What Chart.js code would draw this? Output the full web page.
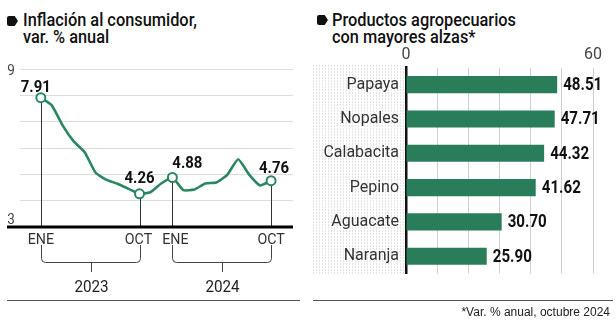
<!DOCTYPE html>
<html><head><meta charset="utf-8">
<script src="https://cdn.jsdelivr.net/npm/chart.js@4/dist/chart.umd.min.js"></script>
<style>
html,body{margin:0;padding:0;background:#fff}
body{width:616px;height:324px;position:relative;overflow:hidden;font-family:Roboto,sans-serif}
.t{position:absolute;top:12px;font-size:19px;font-weight:500;line-height:16.7px;color:#111;transform:scaleX(0.86);transform-origin:0 0;white-space:nowrap}
.b{position:absolute;width:11px;height:10px;background:#111;border-radius:2px 0 0 2px;clip-path:polygon(0 0,70% 0,100% 50%,70% 100%,0 100%)}
.rule{position:absolute;top:300px;height:1px;background:#555}
.note{position:absolute;right:6px;top:305px;font:12px "Liberation Sans",Arial,sans-serif;color:#222;white-space:nowrap}
.cw{position:absolute}
</style></head>
<body>
<div class="b" style="left:7px;top:16px"></div>
<div class="t" style="left:23px">Inflación al consumidor,<br>var. % anual</div>
<div class="b" style="left:317px;top:15px"></div>
<div class="t" style="left:332px">Productos agropecuarios<br>con mayores alzas*</div>
<div class="cw" style="left:0;top:50px;width:300px;height:260px"><canvas id="c1"></canvas></div>
<div class="cw" style="left:300px;top:45px;width:316px;height:245px"><canvas id="c2"></canvas></div>
<div class="rule" style="left:7px;width:293px"></div>
<div class="rule" style="left:313px;width:300px"></div>
<div class="note">*Var. % anual, octubre 2024</div>
<script>
// ---- data: inflation ----
const monthLabels = ['ENE','FEB','MAR','ABR','MAY','JUN','JUL','AGO','SEP','OCT','NOV','DIC',
                     'ENE','FEB','MAR','ABR','MAY','JUN','JUL','AGO','SEP','OCT'];
const inflation = [7.91,7.62,6.85,6.25,5.84,5.06,4.79,4.64,4.45,4.26,4.32,4.66,
                   4.88,4.40,4.42,4.65,4.69,4.98,5.57,4.99,4.58,4.76];
const highlighted = [0,9,12,21];
const yTickLabels = [9,3];
const years = ['2023','2024'];
const yearSpans = [[0,9],[12,21]];
// ---- data: products ----
const products = ['Papaya','Nopales','Calabacita','Pepino','Aguacate','Naranja'];
const increases = [48.51,47.71,44.32,41.62,30.70,25.90];
const barTickLabels = [0,60];

const GREEN = '#2b8760';
const BAR = '#2a7d5b';

function scaledText(ctx, txt, x, y, sx, align){
  ctx.save();
  ctx.translate(x, y);
  ctx.scale(sx, 1);
  ctx.textAlign = align || 'center';
  ctx.fillText(txt, 0, 0);
  ctx.restore();
}

const lineDecor = {
  id:'lineDecor',
  beforeDatasetsDraw(chart){
    const {ctx, scales:{x, y}, chartArea} = chart;
    const y0 = y.getPixelForValue(3);
    ctx.save();
    ctx.strokeStyle = '#333'; ctx.lineWidth = 1;
    highlighted.forEach(i=>{
      const px = Math.round(x.getPixelForValue(i))+0.5;
      ctx.beginPath(); ctx.moveTo(px, y.getPixelForValue(inflation[i])); ctx.lineTo(px, y0); ctx.stroke();
    });
    ctx.strokeStyle = '#000'; ctx.lineWidth = 3;
    ctx.beginPath(); ctx.moveTo(7, y0); ctx.lineTo(chartArea.right, y0); ctx.stroke();
    ctx.restore();
  },
  afterDatasetsDraw(chart){
    const {ctx, scales:{x, y}} = chart;
    const y0 = y.getPixelForValue(3);
    ctx.save();
    // y tick labels
    ctx.fillStyle = '#444'; ctx.font = '15px Roboto'; ctx.textBaseline = 'middle';
    yTickLabels.forEach(v=>{
      const py = v === 3 ? y.getPixelForValue(v) - 7 : y.getPixelForValue(v) + 2;
      scaledText(ctx, String(v), 11, py, 0.9);
    });
    // month labels
    ctx.fillStyle = '#333'; ctx.font = '15px Roboto';
    const mdx = {0:0, 9:-1, 12:3, 21:0};
    highlighted.forEach(i=>{
      scaledText(ctx, monthLabels[i], x.getPixelForValue(i)+mdx[i], y0+13, 0.95);
    });
    // brackets
    ctx.strokeStyle = '#444'; ctx.lineWidth = 1;
    const top = y0+18, hy = y0+35.5, r = 4;
    yearSpans.forEach((s, k)=>{
      const a = Math.round(x.getPixelForValue(s[0]))+0.5, b = Math.round(x.getPixelForValue(s[1]))+0.5;
      ctx.beginPath();
      ctx.moveTo(a, top); ctx.lineTo(a, hy-r); ctx.quadraticCurveTo(a, hy, a+r, hy);
      ctx.lineTo(b-r, hy); ctx.quadraticCurveTo(b, hy, b, hy-r); ctx.lineTo(b, top);
      ctx.stroke();
      const m = Math.round((a+b)/2)+0.5;
      ctx.beginPath(); ctx.moveTo(m, hy); ctx.lineTo(m, y0+45); ctx.stroke();
      ctx.fillStyle = '#222'; ctx.font = '16px Roboto'; ctx.textBaseline = 'middle';
      scaledText(ctx, years[k], m, y0+61, 0.95);
    });
    // value labels
    ctx.fillStyle = '#111'; ctx.font = 'bold 17px Roboto'; ctx.textBaseline = 'alphabetic';
    const off = {0:[-5,-6], 9:[0,-11], 12:[15,-9], 21:[3,-8]};
    highlighted.forEach(i=>{
      const px = x.getPixelForValue(i), py = y.getPixelForValue(inflation[i]);
      scaledText(ctx, inflation[i].toFixed(2), px+off[i][0], py+off[i][1], 0.88);
    });
    ctx.restore();
  }
};

new Chart(document.getElementById('c1'), {
  type:'line',
  data:{datasets:[{
    data: inflation.map((v,i)=>({x:i, y:v})),
    borderColor: GREEN, borderWidth: 2.6, tension: 0.15,
    borderJoinStyle:'round', borderCapStyle:'round',
    pointRadius: inflation.map((v,i)=>highlighted.includes(i)?4.5:0),
    pointBackgroundColor:'#fff', pointBorderColor: GREEN, pointBorderWidth: 2,
    pointHoverRadius: 0
  }]},
  options:{
    responsive:true, maintainAspectRatio:false, animation:false,
    events:[],
    layout:{padding:{left:20, right:7, top:19, bottom:83}},
    plugins:{legend:{display:false}, tooltip:{enabled:false}},
    scales:{
      x:{type:'linear', min:-1.9, max:23, display:false},
      y:{min:3, max:9, ticks:{display:false, stepSize:1},
         grid:{color:'#dcdcdc', lineWidth:1, drawTicks:false},
         border:{display:false}}
    }
  },
  plugins:[lineDecor]
});

const barDecor = {
  id:'barDecor',
  beforeDraw(chart){
    const {ctx, chartArea} = chart;
    ctx.save();
    ctx.fillStyle = '#c9c9c9';
    for (let xx = 13; xx < chartArea.left - 2; xx += 3)
      for (let yy = chartArea.top - 2; yy < chartArea.bottom + 2; yy += 3)
        ctx.fillRect(xx, yy, 1, 1);
    ctx.restore();
  },
  afterDatasetsDraw(chart){
    const {ctx} = chart;
    const meta = chart.getDatasetMeta(0);
    ctx.save();
    ctx.fillStyle = '#111'; ctx.font = 'bold 18px Roboto'; ctx.textBaseline = 'middle';
    meta.data.forEach((bar, i)=>{
      scaledText(ctx, increases[i].toFixed(2), bar.x + 6, bar.y + 1, 0.84, 'left');
    });
    ctx.restore();
  }
};

new Chart(document.getElementById('c2'), {
  type:'bar',
  data:{labels: products, datasets:[{data: increases, backgroundColor: BAR,
        categoryPercentage:1, barPercentage:0.5}]},
  options:{
    indexAxis:'y', responsive:true, maintainAspectRatio:false, animation:false,
    events:[],
    layout:{padding:{left:0, right:23, top:0, bottom:12.5}},
    plugins:{legend:{display:false}, tooltip:{enabled:false}},
    scales:{
      x:{position:'top', min:0, max:60,
         ticks:{stepSize:10, autoSkip:false, maxRotation:0, padding:3,
                color:'#444', font:{family:'Roboto', size:16},
                callback:v=>barTickLabels.includes(v)?String(v):''},
         grid:{color:'#d0d0d0', lineWidth:1, drawTicks:false},
         border:{display:false},
         afterFit(s){ s.height = 22.5; }},
      y:{ticks:{padding:7, color:'#333', font:{family:'Roboto', size:16}},
         grid:{display:false, drawTicks:false},
         border:{color:'#111', width:2.5},
         afterFit(s){ s.width = 106; }}
    }
  },
  plugins:[barDecor]
});
</script>
</body></html>
